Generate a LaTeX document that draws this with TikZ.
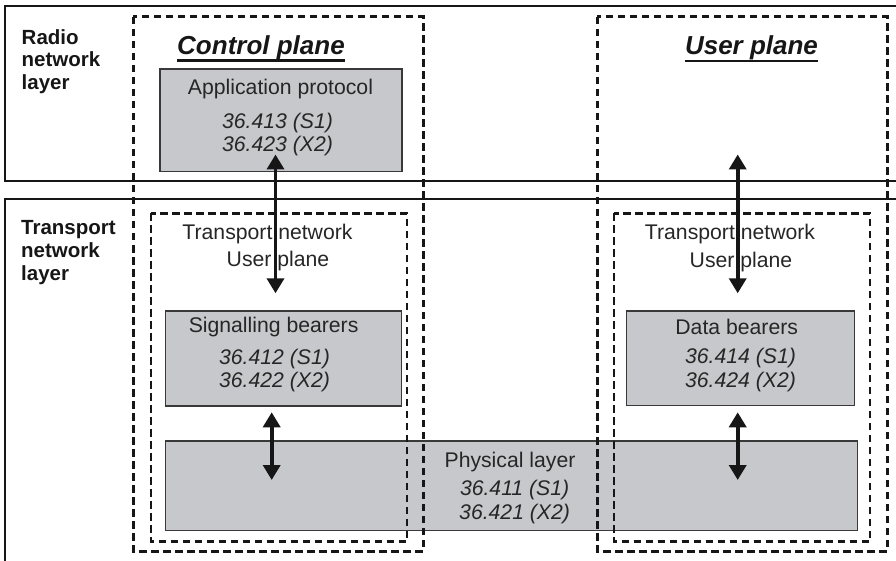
\documentclass[tikz,border=0pt]{standalone}
\usepackage{fontspec}
\setmainfont{Liberation Sans}
\usetikzlibrary{arrows.meta}
\definecolor{boxgray}{RGB}{199,200,203}
\definecolor{ink}{RGB}{22,22,22}
\definecolor{txt}{RGB}{38,38,38}
\tikzset{
  layerline/.style={draw=ink, line width=2.6pt},
  graybox/.style={draw=ink!85, fill=boxgray, line width=1.3pt, inner sep=0pt},
  planedash/.style={draw=ink, line width=3pt, dash pattern=on 7.5pt off 4.5pt},
  innerdash/.style={draw=ink, line width=2.8pt, dash pattern=on 7.5pt off 4.5pt},
  lbl/.style={anchor=base, inner sep=0pt, text=txt, font=\fontsize{21.2}{25}\selectfont},
  num/.style={anchor=base, inner sep=0pt, text=txt, font=\fontsize{21.2}{25}\selectfont\itshape},
  side/.style={anchor=base west, inner sep=0pt, text=ink, font=\fontsize{20.5}{24}\selectfont\bfseries},
  ptitle/.style={anchor=base, inner sep=0pt, text=ink, font=\fontsize{26}{30}\selectfont\bfseries\itshape},
  dblarrow/.style={draw=ink, line width=3.6pt, {Triangle[width=17pt,length=15pt]}-{Triangle[width=17pt,length=15pt]}},
}
\begin{document}
\begin{tikzpicture}[x=1pt,y=-1pt]
\useasboundingbox (0,0) rectangle (896,561);
% layer frames
\draw[layerline] (896,6) -- (5,6) -- (5,181) -- (896,181);
\draw[layerline] (896,199) -- (5,199) -- (5,561);
% gray boxes
\node[graybox, minimum width=242pt, minimum height=102.7pt] (app) at (281,120.35) {};
\node[graybox, minimum width=236pt, minimum height=95pt] (sig) at (283.7,358.5) {};
\node[graybox, minimum width=227.6pt, minimum height=94.7pt] (data) at (740.5,358.35) {};
\node[graybox, minimum width=692pt, minimum height=89.7pt] (phys) at (511.7,485.85) {};
% dashed plane boxes
\draw[planedash] (133,17) rectangle (423,551);
\draw[planedash] (597,17) rectangle (887,551);
\draw[innerdash] (151,213.3) rectangle (407,541.7);
\draw[innerdash] (614,213.3) rectangle (870,541.7);
% titles
\node[ptitle] (ctitle) at (261,54.3) {Control plane};
\node[ptitle] (utitle) at (751.5,55) {User plane};
\draw[ink, line width=2.2pt] ([yshift=-6.3pt]ctitle.base west) -- ([yshift=-6.3pt]ctitle.base east);
\draw[ink, line width=2.2pt] ([yshift=-6.3pt]utitle.base west) -- ([yshift=-6.3pt]utitle.base east);
% side labels
\node[side] (r1) at (21.5,44.5) {Radio};
\node[side] (r2) at (21.5,67) {network};
\node[side] (r3) at (21.5,89.5) {layer};
\node[side] (t1) at (21,235) {Transport};
\node[side] (t2) at (21,258) {network};
\node[side] (t3) at (21,280.5) {layer};
% box texts
\node[lbl] (appt) at (280.5,94.3) {Application protocol};
\node[num] (app1) at (277.5,128.3) {36.413 (S1)};
\node[num] (app2) at (277.5,151.7) {36.423 (X2)};
\node[lbl] (tnl1) at (267.5,239.3) {Transport network};
\node[lbl] (tnl2) at (278,266) {User plane};
\node[lbl] (tnr1) at (730,239.3) {Transport network};
\node[lbl] (tnr2) at (741,267) {User plane};
\node[lbl] (sigt) at (273.6,332.5) {Signalling bearers};
\node[num] (sig1) at (274.5,364.5) {36.412 (S1)};
\node[num] (sig2) at (274.5,387.3) {36.422 (X2)};
\node[lbl] (datat) at (736.7,334) {Data bearers};
\node[num] (data1) at (740.5,363) {36.414 (S1)};
\node[num] (data2) at (740.5,387) {36.424 (X2)};
\node[lbl] (physt) at (510,467) {Physical layer};
\node[num] (phys1) at (514.6,495) {36.411 (S1)};
\node[num] (phys2) at (514.6,519.3) {36.421 (X2)};
% arrows
\coordinate (ca1) at (275.5,154.5);
\coordinate (ca2) at (275.5,293.3);
\coordinate (ua1) at (737.7,154.5);
\coordinate (ua2) at (737.7,293.3);
\coordinate (cb1) at (271.7,412.3);
\coordinate (cb2) at (271.7,480);
\coordinate (ub1) at (737.7,412.3);
\coordinate (ub2) at (737.7,480);
\draw[dblarrow] (ca1) -- (ca2);
\draw[dblarrow] (ua1) -- (ua2);
\draw[dblarrow] (cb1) -- (cb2);
\draw[dblarrow] (ub1) -- (ub2);
\end{tikzpicture}
\end{document}
